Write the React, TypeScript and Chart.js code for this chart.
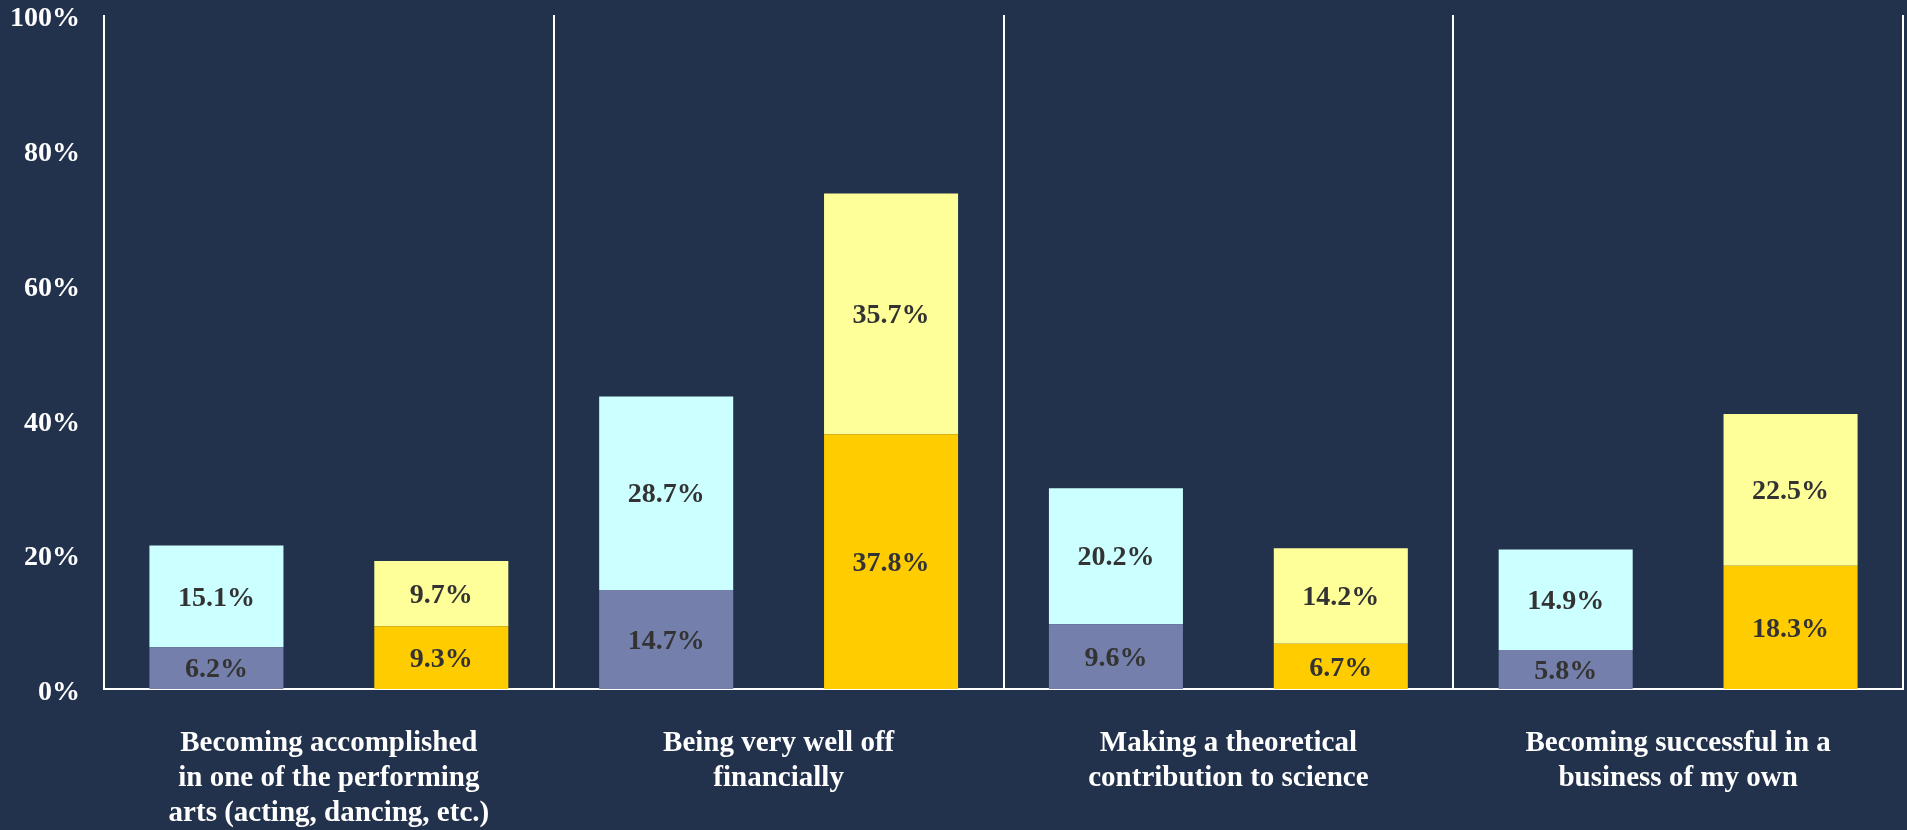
import React, { useEffect, useRef } from "react";
import { Chart, registerables } from "chart.js";

Chart.register(...registerables);

const categories: string[][] = [
  ["Becoming accomplished", "in one of the performing", "arts (acting, dancing, etc.)"],
  ["Being very well off", "financially"],
  ["Making a theoretical", "contribution to science"],
  ["Becoming successful in a", "business of my own"],
];

const leftBottom = [6.2, 14.7, 9.6, 5.8];
const leftTop = [15.1, 28.7, 20.2, 14.9];
const rightBottom = [9.3, 37.8, 6.7, 18.3];
const rightTop = [9.7, 35.7, 14.2, 22.5];

const yTicks = [0, 20, 40, 60, 80, 100];

const BG = "#22324C";
const FONT = "'Liberation Serif', 'DejaVu Serif', serif";

const valueLabels = {
  id: "valueLabels",
  afterDatasetsDraw(chart: any) {
    const ctx = chart.ctx;
    ctx.save();
    ctx.font = `bold 28px ${FONT}`;
    ctx.fillStyle = "#333333";
    ctx.textAlign = "center";
    ctx.textBaseline = "middle";
    chart.data.datasets.forEach((ds: any, di: number) => {
      const meta = chart.getDatasetMeta(di);
      meta.data.forEach((el: any, i: number) => {
        const v = ds.data[i];
        const y = (el.y + el.base) / 2 + 2;
        ctx.fillText(v.toFixed(1) + "%", el.x, y);
      });
    });
    ctx.restore();
  },
};

export default function App() {
  const ref = useRef<HTMLCanvasElement>(null);
  useEffect(() => {
    if (!ref.current) return;
    const chart = new Chart(ref.current, {
      type: "bar",
      data: {
        labels: categories,
        datasets: [
          { label: "A bottom", data: leftBottom, backgroundColor: "#7480AB", stack: "a" },
          { label: "A top", data: leftTop, backgroundColor: "#CCFFFF", stack: "a" },
          { label: "B bottom", data: rightBottom, backgroundColor: "#FFCC00", stack: "b" },
          { label: "B top", data: rightTop, backgroundColor: "#FFFF99", stack: "b" },
        ],
      },
      options: {
        responsive: false,
        animation: false,
        datasets: { bar: { categoryPercentage: 1.0, barPercentage: 0.596 } },
        layout: { padding: { top: 0, right: 4, left: 0, bottom: 0 } },
        plugins: { legend: { display: false }, tooltip: { enabled: false } },
        scales: {
          x: {
            stacked: true,
            grid: { display: true, offset: true, color: "#FFFFFF", lineWidth: 2, drawTicks: false },
            border: { display: true, color: "#FFFFFF", width: 2 },
            ticks: {
              color: "#FFFFFF",
              padding: 37,
              maxRotation: 0,
              autoSkip: false,
              font: { family: FONT, size: 29, weight: "bold", lineHeight: 35 / 29 },
            },
            afterFit: (s: any) => { s.height = 141; },
          },
          y: {
            stacked: true,
            min: 0,
            max: 100,
            afterBuildTicks: (s: any) => { s.ticks = yTicks.map((v) => ({ value: v })); },
            grid: { display: false, drawTicks: false },
            border: { display: false },
            ticks: {
              color: "#FFFFFF",
              padding: 24,
              labelOffset: 4,
              callback: (v: any) => v + "%",
              font: { family: FONT, size: 28, weight: "bold", lineHeight: 1 },
            },
            afterFit: (s: any) => { s.width = 104; s.paddingTop = 15; s.paddingBottom = 0; },
          },
        },
      },
      plugins: [valueLabels],
    });
    return () => chart.destroy();
  }, []);
  return (
    <div style={{ position: "fixed", left: 0, top: 0, width: 1907, height: 830, background: BG }}>
      <canvas ref={ref} width={1907} height={830} style={{ display: "block" }} />
    </div>
  );
}
